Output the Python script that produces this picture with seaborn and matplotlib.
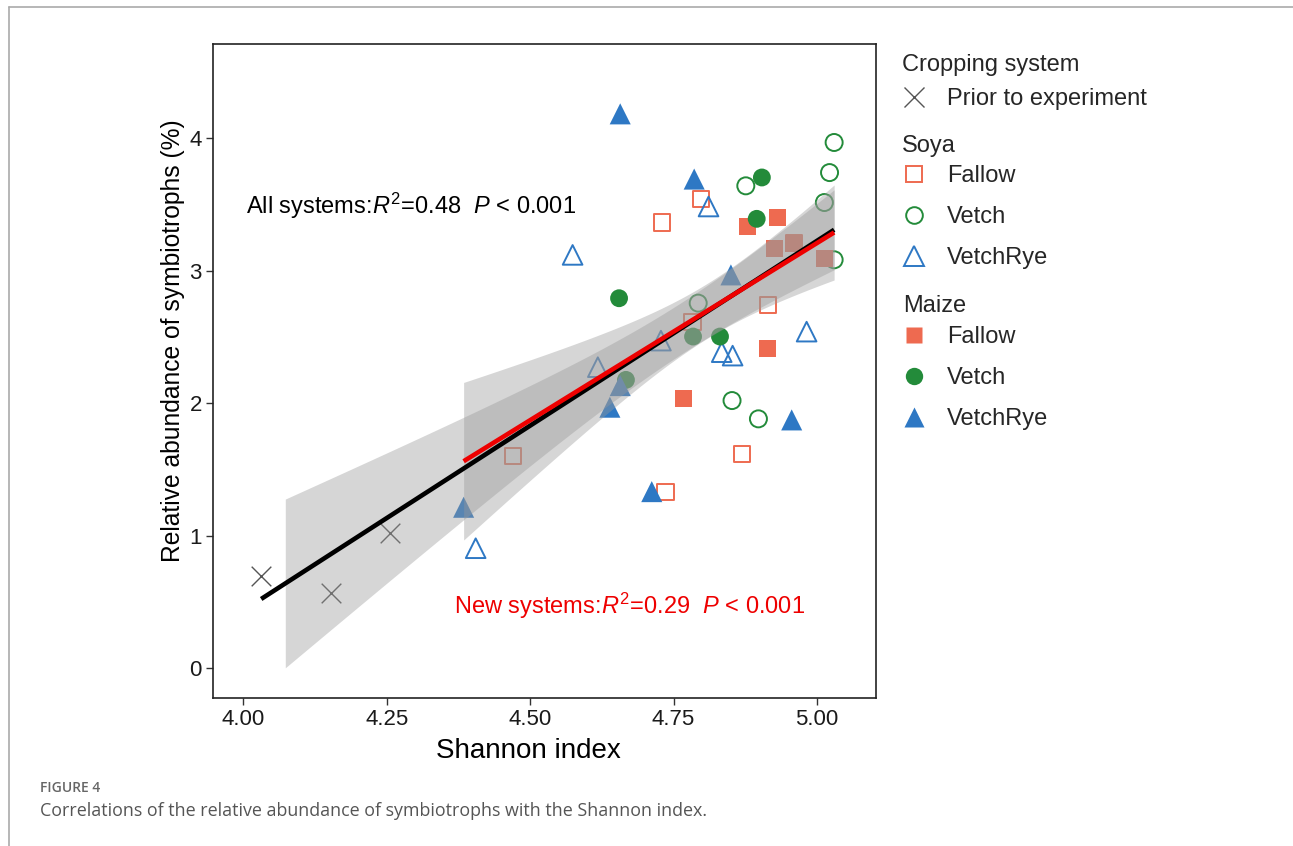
import numpy as np
import pandas as pd
import matplotlib
matplotlib.use("Agg")
import matplotlib.pyplot as plt
from matplotlib.lines import Line2D
import seaborn as sns

# ---------------- data ----------------
prior_x = [4.031, 4.152, 4.256]
prior_y = [0.697, 0.566, 1.019]

soya_fallow_x = [4.730, 4.798, 4.783, 4.914, 4.960, 4.470, 4.869, 4.736]
soya_fallow_y = [3.363, 3.540, 2.611, 2.742, 3.210, 1.602, 1.614, 1.333]

soya_vetch_x = [5.030, 5.022, 5.013, 5.030, 4.876, 4.793, 4.852, 4.898]
soya_vetch_y = [3.967, 3.740, 3.514, 3.082, 3.640, 2.755, 2.020, 1.882]

soya_vetchrye_x = [4.574, 4.811, 4.728, 4.618, 4.834, 4.853, 4.982, 4.405]
soya_vetchrye_y = [3.119, 3.484, 2.472, 2.272, 2.385, 2.359, 2.540, 0.906]

maize_fallow_x = [4.931, 4.879, 4.926, 4.959, 5.013, 4.913, 4.767]
maize_fallow_y = [3.404, 3.333, 3.170, 3.208, 3.089, 2.410, 2.032]

maize_vetch_x = [4.904, 4.895, 4.655, 4.784, 4.831, 4.667]
maize_vetch_y = [3.703, 3.391, 2.792, 2.503, 2.503, 2.176]

maize_vetchrye_x = [4.657, 4.786, 4.850, 4.657, 4.639, 4.956, 4.712, 4.384]
maize_vetchrye_y = [4.183, 3.691, 2.968, 2.133, 1.970, 1.874, 1.333, 1.215]

x_ticks = [4.00, 4.25, 4.50, 4.75, 5.00]
x_tick_labels = ["4.00", "4.25", "4.50", "4.75", "5.00"]
y_ticks = [0, 1, 2, 3, 4]

text_all = r"All systems:$\mathit{R}^{2}$=0.48  $\mathit{P}$ < 0.001"
text_new = r"New systems:$\mathit{R}^{2}$=0.29  $\mathit{P}$ < 0.001"

# ---------------- styling ----------------
C_SALMON = "#EE6A50"
C_GREEN = "#238B3A"
C_BLUE = "#2E78C4"
C_CROSS = "#555555"

sns.set_style("white")
plt.rcParams["font.family"] = ["Liberation Sans", "DejaVu Sans"]
plt.rcParams["mathtext.fontset"] = "custom"
plt.rcParams["mathtext.rm"] = "Liberation Sans"
plt.rcParams["mathtext.it"] = "Liberation Sans:italic"
plt.rcParams["mathtext.default"] = "regular"

W, H = 1293, 846
fig = plt.figure(figsize=(W / 100, H / 100), dpi=100)
ax = fig.add_axes([213 / W, 1 - 698 / H, (876 - 213) / W, (698 - 44) / H])

def df_of(xs, ys):
    return pd.DataFrame({"x": xs, "y": ys})

groups = [
    (prior_x, prior_y, dict(marker="x", s=200, color=C_CROSS, linewidth=1.0)),
    (soya_fallow_x, soya_fallow_y, dict(marker="s", s=135, facecolor="none", edgecolor=C_SALMON, linewidth=1.4)),
    (soya_vetch_x, soya_vetch_y, dict(marker="o", s=150, facecolor="none", edgecolor=C_GREEN, linewidth=1.4)),
    (soya_vetchrye_x, soya_vetchrye_y, dict(marker="^", s=200, facecolor="none", edgecolor=C_BLUE, linewidth=1.4)),
    (maize_fallow_x, maize_fallow_y, dict(marker="s", s=150, facecolor=C_SALMON, edgecolor="none", linewidth=0)),
    (maize_vetch_x, maize_vetch_y, dict(marker="o", s=165, facecolor=C_GREEN, edgecolor="none", linewidth=0)),
    (maize_vetchrye_x, maize_vetchrye_y, dict(marker="^", s=230, facecolor=C_BLUE, edgecolor="none", linewidth=0)),
]
for xs, ys, kw in groups:
    sns.scatterplot(data=df_of(xs, ys), x="x", y="y", ax=ax, legend=False, zorder=2, **kw)

# ---------------- regressions ----------------
def t975(df):
    z = 1.959964
    return z + (z**3 + z) / (4 * df) + (5 * z**5 + 16 * z**3 + 3 * z) / (96 * df**2)

def fit(xv, yv, n=500):
    xv = np.asarray(xv); yv = np.asarray(yv)
    b1, b0 = np.polyfit(xv, yv, 1)
    xs = np.linspace(xv.min(), xv.max(), n)
    yhat = b0 + b1 * xs
    res = yv - (b0 + b1 * xv)
    s = np.sqrt(np.sum(res**2) / (len(xv) - 2))
    sxx = np.sum((xv - xv.mean())**2)
    se = s * np.sqrt(1 / len(xv) + (xs - xv.mean())**2 / sxx)
    t = t975(len(xv) - 2)
    return xs, yhat, yhat - t * se, yhat + t * se

new_x = soya_fallow_x + soya_vetch_x + soya_vetchrye_x + maize_fallow_x + maize_vetch_x + maize_vetchrye_x
new_y = soya_fallow_y + soya_vetch_y + soya_vetchrye_y + maize_fallow_y + maize_vetch_y + maize_vetchrye_y
all_x = prior_x + new_x
all_y = prior_y + new_y

xa, ya, la, ua = fit(all_x, all_y)
xn, yn, ln, un = fit(new_x, new_y)

ma = la >= 0
ax.fill_between(xa[ma], la[ma], ua[ma], color="#999999", alpha=0.4, linewidth=0, zorder=3)
mn = ln >= 0
ax.fill_between(xn[mn], ln[mn], un[mn], color="#999999", alpha=0.4, linewidth=0, zorder=3)
ax.plot(xa, ya, color="black", linewidth=3.3, zorder=4, solid_capstyle="butt")
ax.plot(xn, yn, color="#EE0000", linewidth=3.3, zorder=5, solid_capstyle="butt")

# ---------------- annotations ----------------
ax.text(4.005, 3.485, text_all, fontsize=17, color="black", ha="left", va="center", zorder=6)
ax.text(4.367, 0.47, text_new, fontsize=17, color="#EE0000", ha="left", va="center", zorder=6)

# ---------------- axes ----------------
ax.set_xlim(3.947, 5.103)
ax.set_ylim(-0.224, 4.71)
ax.set_xticks(x_ticks)
ax.set_xticklabels(x_tick_labels)
ax.set_yticks(y_ticks)
ax.tick_params(axis="both", which="major", direction="out", length=5, width=1.0,
               color="#333333", labelsize=16, labelcolor="#1a1a1a", pad=3,
               bottom=True, left=True)
for sp in ax.spines.values():
    sp.set_color("#222222")
    sp.set_linewidth(1.2)
ax.set_xlabel("Shannon index", fontsize=20, x=0.475, labelpad=6, color="black")
ax.set_ylabel("Relative abundance of symbiotrophs (%)", fontsize=17.7, y=0.547, labelpad=3, color="black")

# ---------------- legend ----------------
fs_leg = 17
def mk(marker, ms, **kw):
    return Line2D([], [], linestyle="none", marker=marker, markersize=ms, **kw)

def add_legend(handles, labels, top_px):
    leg = fig.legend(handles, labels, loc="upper left",
                     bbox_to_anchor=(902 / W, 1 - top_px / H),
                     frameon=False, fontsize=fs_leg, borderpad=0, borderaxespad=0,
                     handlelength=1.0, handletextpad=0.9, labelspacing=0.8)
    return leg

fig.text(902 / W, 1 - 65 / H, "Cropping system", fontsize=fs_leg, ha="left", va="center")
add_legend([mk("x", 14, color=C_CROSS, markeredgewidth=1.0)], ["Prior to experiment"], 88)

fig.text(902 / W, 1 - 146 / H, "Soya", fontsize=fs_leg, ha="left", va="center")
add_legend([mk("s", 12, markerfacecolor="none", markeredgecolor=C_SALMON, markeredgewidth=1.4),
            mk("o", 12, markerfacecolor="none", markeredgecolor=C_GREEN, markeredgewidth=1.4),
            mk("^", 14.5, markerfacecolor="none", markeredgecolor=C_BLUE, markeredgewidth=1.4)],
           ["Fallow", "Vetch", "VetchRye"], 165)

fig.text(903 / W, 1 - 306 / H, "Maize", fontsize=fs_leg, ha="left", va="center")
add_legend([mk("s", 12, markerfacecolor=C_SALMON, markeredgecolor="none"),
            mk("o", 12.5, markerfacecolor=C_GREEN, markeredgecolor="none"),
            mk("^", 15, markerfacecolor=C_BLUE, markeredgecolor="none")],
           ["Fallow", "Vetch", "VetchRye"], 326)

# ---------------- page frame & caption ----------------
fig.add_artist(Line2D([9 / W, 1], [1 - 7 / H, 1 - 7 / H], transform=fig.transFigure, color="#aaaaaa", linewidth=1.2))
fig.add_artist(Line2D([9 / W, 9 / W], [0, 1 - 7 / H], transform=fig.transFigure, color="#aaaaaa", linewidth=1.2))
fig.text(40 / W, 1 - 788 / H, "FIGURE 4", fontsize=10, color="#666666", ha="left", va="center",
         family=["Open Sans", "DejaVu Sans"], fontweight="semibold")
fig.text(40 / W, 1 - 811 / H, "Correlations of the relative abundance of symbiotrophs with the Shannon index.",
         fontsize=12.9, color="#555555", ha="left", va="center", family=["Open Sans", "DejaVu Sans"])

fig.savefig("out.png", dpi=100)
